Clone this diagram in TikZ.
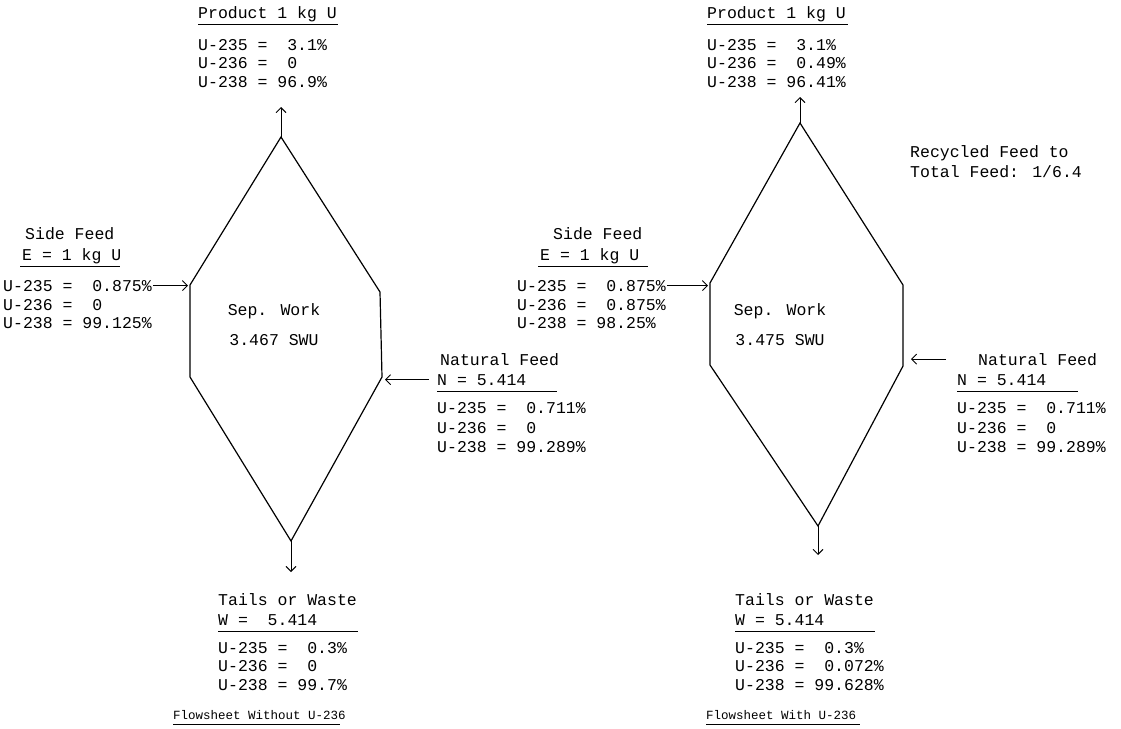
\documentclass[tikz,border=0pt]{standalone}
\usepackage{fontspec}
\newfontfamily\tw{Liberation Mono}
\usetikzlibrary{arrows.meta}
\tikzset{
  txt/.style={inner sep=0pt, anchor=base west, font=\tw\fontsize{16.5pt}{18.5pt}\selectfont},
  ctr/.style={inner sep=0pt, anchor=base, font=\tw\fontsize{16.5pt}{18.5pt}\selectfont},
  capt/.style={inner sep=0pt, anchor=base west, font=\tw\fontsize{12.5pt}{14pt}\selectfont},
  hex/.style={line width=1.2pt, line join=miter},
  arr/.style={line width=0.9pt, -{Straight Barb[length=5pt,width=10pt,line width=0.9pt]}},
  ul/.style={line width=0.9pt}
}
\begin{document}
\begin{tikzpicture}[x=1pt,y=-1pt]
\useasboundingbox (0,0) rectangle (1121,728);
% ---------------- LEFT FLOWSHEET ----------------
\coordinate (TL) at (281,137);
\coordinate (ULL) at (190,285);
\coordinate (LLL) at (190,377);
\coordinate (URL) at (380,292);
\coordinate (LRL) at (382,377);
\coordinate (BL) at (291,541);
\coordinate (PTL) at (281,107);
\coordinate (WTL) at (291,572);
\draw[hex] (TL) -- (URL) -- (LRL) -- (BL) -- (LLL) -- (ULL) -- cycle;
\node[ctr] (swL1) at (274,315) {Sep. Work};
\node[ctr] (swL2) at (274,345) {3.467 SWU};
% product
\node[txt] (pL) at (198,18) {Product 1 kg U};
\draw[ul] (198,24) -- (338,24);
\node[txt] (pLa) at (198,50) {U-235 =~~3.1\%};
\node[txt] (pLb) at (198,68.5) {U-236 =~~0};
\node[txt] (pLc) at (198,87) {U-238 = 96.9\%};
\draw[arr] (TL) -- (PTL);
% side feed
\node[txt] (sL) at (25,239) {Side Feed};
\node[txt] (eL) at (22,260) {E = 1 kg U};
\draw[ul] (20,266) -- (120,266);
\node[txt] (sLa) at (3,291) {U-235 =~~0.875\%};
\node[txt] (sLb) at (3,310) {U-236 =~~0};
\node[txt] (sLc) at (3,328) {U-238 = 99.125\%};
\draw[arr] ([xshift=1pt]sLa.east) -- ([xshift=-2pt]sLa.east -| ULL);
% natural feed
\node[txt] (nL) at (440,365) {Natural Feed};
\node[txt] (nLn) at (437,385) {N = 5.414};
\draw[ul] (437,391) -- (557,391);
\node[txt] (nLa) at (437,413) {U-235 =~~0.711\%};
\node[txt] (nLb) at (437,433) {U-236 =~~0};
\node[txt] (nLc) at (437,452) {U-238 = 99.289\%};
\draw[arr] ([xshift=-8pt]nLn.west) -- ([xshift=3pt]nLn.west -| LRL);
% tails
\draw[arr] (BL) -- (WTL);
\node[txt] (tL) at (218,605) {Tails or Waste};
\node[txt] (wL) at (218,625) {W =~~5.414};
\draw[ul] (218,631) -- (358,631);
\node[txt] (tLa) at (218,653) {U-235 =~~0.3\%};
\node[txt] (tLb) at (218,671) {U-236 =~~0};
\node[txt] (tLc) at (218,690) {U-238 = 99.7\%};
\node[capt] (cL) at (173,719) {Flowsheet Without U-236};
\draw[ul] (173,724) -- (340,724);
% ---------------- RIGHT FLOWSHEET ----------------
\coordinate (TR) at (800,123);
\coordinate (ULR) at (710,283);
\coordinate (LLR) at (710,365);
\coordinate (URR) at (903,285);
\coordinate (LRR) at (903,366);
\coordinate (BR) at (818,526);
\coordinate (PTR) at (800,97);
\coordinate (WTR) at (818,555);
\draw[hex] (TR) -- (URR) -- (LRR) -- (BR) -- (LLR) -- (ULR) -- cycle;
\node[ctr] (swR1) at (780,315) {Sep. Work};
\node[ctr] (swR2) at (780,345) {3.475 SWU};
% product
\node[txt] (pR) at (707,18) {Product 1 kg U};
\draw[ul] (707,24) -- (848,24);
\node[txt] (pRa) at (707,50) {U-235 =~~3.1\%};
\node[txt] (pRb) at (707,68.5) {U-236 =~~0.49\%};
\node[txt] (pRc) at (707,87) {U-238 = 96.41\%};
\draw[arr] (TR) -- (PTR);
% recycled
\node[txt] (rc1) at (910,157) {Recycled Feed to};
\node[txt] (rc2) at (910,177) {Total Feed: 1/6.4};
% side feed
\node[txt] (sR) at (553,239) {Side Feed};
\node[txt] (eR) at (540,260) {E = 1 kg U};
\draw[ul] (538,266) -- (648,266);
\node[txt] (sRa) at (517,291) {U-235 =~~0.875\%};
\node[txt] (sRb) at (517,310) {U-236 =~~0.875\%};
\node[txt] (sRc) at (517,328) {U-238 = 98.25\%};
\draw[arr] ([xshift=1pt]sRa.east) -- ([xshift=-2pt]sRa.east -| ULR);
% natural feed
\node[txt] (nR) at (978,365) {Natural Feed};
\node[txt] (nRn) at (957,385) {N = 5.414};
\draw[ul] (957,391) -- (1078,391);
\node[txt] (nRa) at (957,413) {U-235 =~~0.711\%};
\node[txt] (nRb) at (957,433) {U-236 =~~0};
\node[txt] (nRc) at (957,452) {U-238 = 99.289\%};
\draw[arr] ([xshift=-32pt]nR.west) -- ([xshift=8pt]nR.west -| LRR);
% tails
\draw[arr] (BR) -- (WTR);
\node[txt] (tR) at (735,605) {Tails or Waste};
\node[txt] (wR) at (735,625) {W = 5.414};
\draw[ul] (735,631) -- (875,631);
\node[txt] (tRa) at (735,653) {U-235 =~~0.3\%};
\node[txt] (tRb) at (735,671) {U-236 =~~0.072\%};
\node[txt] (tRc) at (735,690) {U-238 = 99.628\%};
\node[capt] (cR) at (706,719) {Flowsheet With U-236};
\draw[ul] (706,724) -- (860,724);
\end{tikzpicture}
\end{document}
